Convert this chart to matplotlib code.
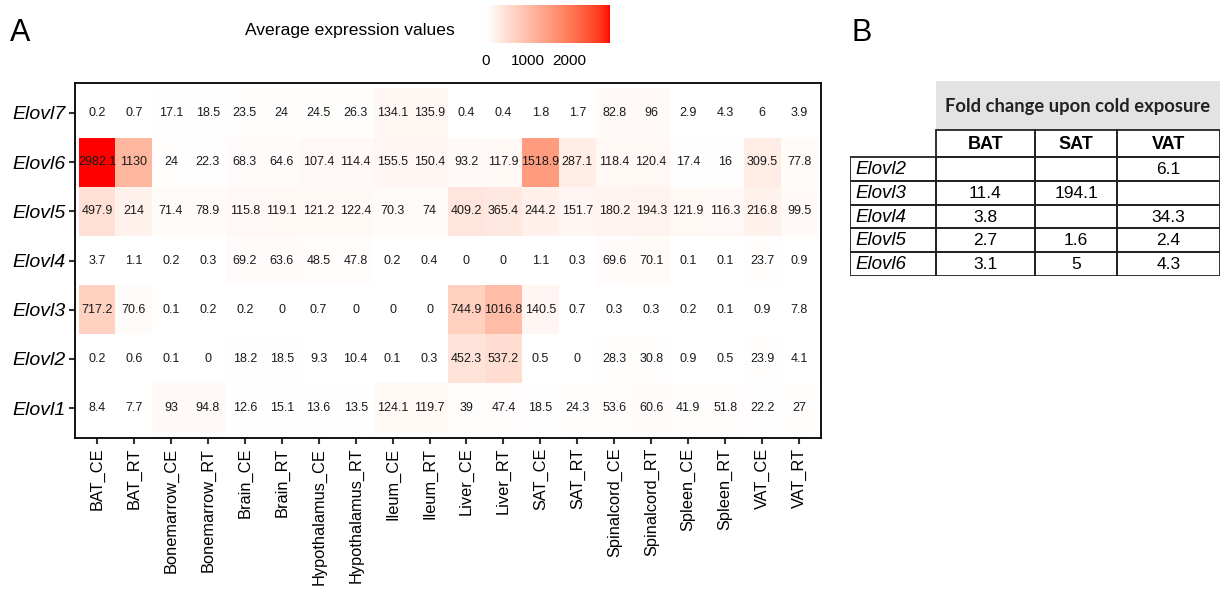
import numpy as np
import matplotlib
matplotlib.use("Agg")
import matplotlib.pyplot as plt
from matplotlib.colors import ListedColormap, Normalize
from matplotlib.cm import ScalarMappable
from matplotlib.patches import Rectangle

plt.rcParams['font.family'] = ['Liberation Sans', 'DejaVu Sans']

# ---- data (panel A) ----
genes = ['Elovl7', 'Elovl6', 'Elovl5', 'Elovl4', 'Elovl3', 'Elovl2', 'Elovl1']  # top to bottom
samples = ['BAT_CE', 'BAT_RT', 'Bonemarrow_CE', 'Bonemarrow_RT', 'Brain_CE', 'Brain_RT',
           'Hypothalamus_CE', 'Hypothalamus_RT', 'Ileum_CE', 'Ileum_RT', 'Liver_CE', 'Liver_RT',
           'SAT_CE', 'SAT_RT', 'Spinalcord_CE', 'Spinalcord_RT', 'Spleen_CE', 'Spleen_RT',
           'VAT_CE', 'VAT_RT']
elovl7 = [0.2, 0.7, 17.1, 18.5, 23.5, 24, 24.5, 26.3, 134.1, 135.9, 0.4, 0.4, 1.8, 1.7, 82.8, 96, 2.9, 4.3, 6, 3.9]
elovl6 = [2982.1, 1130, 24, 22.3, 68.3, 64.6, 107.4, 114.4, 155.5, 150.4, 93.2, 117.9, 1518.9, 287.1, 118.4, 120.4, 17.4, 16, 309.5, 77.8]
elovl5 = [497.9, 214, 71.4, 78.9, 115.8, 119.1, 121.2, 122.4, 70.3, 74, 409.2, 365.4, 244.2, 151.7, 180.2, 194.3, 121.9, 116.3, 216.8, 99.5]
elovl4 = [3.7, 1.1, 0.2, 0.3, 69.2, 63.6, 48.5, 47.8, 0.2, 0.4, 0, 0, 1.1, 0.3, 69.6, 70.1, 0.1, 0.1, 23.7, 0.9]
elovl3 = [717.2, 70.6, 0.1, 0.2, 0.2, 0, 0.7, 0, 0, 0, 744.9, 1016.8, 140.5, 0.7, 0.3, 0.3, 0.2, 0.1, 0.9, 7.8]
elovl2 = [0.2, 0.6, 0.1, 0, 18.2, 18.5, 9.3, 10.4, 0.1, 0.3, 452.3, 537.2, 0.5, 0, 28.3, 30.8, 0.9, 0.5, 23.9, 4.1]
elovl1 = [8.4, 7.7, 93, 94.8, 12.6, 15.1, 13.6, 13.5, 124.1, 119.7, 39, 47.4, 18.5, 24.3, 53.6, 60.6, 41.9, 51.8, 22.2, 27]
cbar_ticks = [0, 1000, 2000]

# ---- data (panel B) ----
fc_genes = ['Elovl2', 'Elovl3', 'Elovl4', 'Elovl5', 'Elovl6']
fc_cols = ['BAT', 'SAT', 'VAT']
fc_bat = ['', '11.4', '3.8', '2.7', '3.1']
fc_sat = ['', '194.1', '', '1.6', '5']
fc_vat = ['6.1', '', '34.3', '2.4', '4.3']


# white -> red gradient interpolated in Lab space (like ggplot)
def lab_gradient(n=256):
    def to_lin(c):
        c = np.asarray(c, float)
        return np.where(c <= 0.04045, c / 12.92, ((c + 0.055) / 1.055) ** 2.4)
    M = np.array([[0.4124, 0.3576, 0.1805], [0.2126, 0.7152, 0.0722], [0.0193, 0.1192, 0.9505]])
    wp = np.array([0.95047, 1.0, 1.08883])
    def lab(rgb):
        xyz = M @ to_lin(rgb) / wp
        f = np.where(xyz > 0.008856, np.cbrt(xyz), 7.787 * xyz + 16 / 116)
        return np.array([116 * f[1] - 16, 500 * (f[0] - f[1]), 200 * (f[1] - f[2])])
    l0, l1 = lab([1, 1, 1]), lab([1, 0, 0])
    out = []
    for t in np.linspace(0, 1, n):
        L, a, b = l0 + t * (l1 - l0)
        fy = (L + 16) / 116
        f = np.array([fy + a / 500, fy, fy - b / 200])
        xyz = np.where(f ** 3 > 0.008856, f ** 3, (f - 16 / 116) / 7.787) * wp
        lin = np.clip(np.linalg.inv(M) @ xyz, 0, 1)
        srgb = np.where(lin <= 0.0031308, 12.92 * lin, 1.055 * lin ** (1 / 2.4) - 0.055)
        out.append(np.clip(srgb, 0, 1))
    return ListedColormap(out)


cmap = lab_gradient()
Z = np.array([elovl7, elovl6, elovl5, elovl4, elovl3, elovl2, elovl1])[::-1]
norm = Normalize(0, Z.max())

W, H = 1222, 590
fig = plt.figure(figsize=(W / 100, H / 100), dpi=100)

# panel A heatmap
ax = fig.add_axes([75 / W, 1 - 438 / H, (821 - 75) / W, (438 - 83) / H])
ax.pcolormesh(np.arange(len(samples) + 1) - 0.5, np.arange(len(genes) + 1) - 0.5, Z,
              cmap=cmap, norm=norm)
for i in range(Z.shape[0]):
    for j in range(Z.shape[1]):
        ax.text(j, i, '%g' % Z[i, j], ha='center', va='center', fontsize=9, color='#1a1a1a')
ax.set_xlim(-0.595, len(samples) - 0.405)
ax.set_ylim(-0.61, len(genes) - 0.39)
ax.set_xticks(range(len(samples)))
ax.set_xticklabels(samples, rotation=90, fontsize=11.8)
ax.set_yticks(range(len(genes)))
ax.set_yticklabels(genes[::-1], fontsize=14, style='italic')
ax.tick_params(length=4, width=1.5, color='#333333', pad=3)
for s in ax.spines.values():
    s.set_linewidth(1.3)

# colour bar
cax = fig.add_axes([486 / W, 1 - 43 / H, 124 / W, 38 / H])
cb = fig.colorbar(ScalarMappable(norm=norm, cmap=cmap), cax=cax, orientation='horizontal',
                  ticks=cbar_ticks)
cb.outline.set_visible(False)
cax.tick_params(length=0, labelsize=11, pad=8)
fig.text(455 / W, 1 - 31 / H, 'Average expression values', ha='right', va='center', fontsize=12.6)

fig.text(10 / W, 1 - 33 / H, 'A', fontsize=22, va='center', ha='left')
fig.text(852 / W, 1 - 33 / H, 'B', fontsize=22, va='center', ha='left')

# panel B table
tx0, tx1, ty0, ty1 = 850, 1220, 81, 276
tax = fig.add_axes([tx0 / W, 1 - ty1 / H, (tx1 - tx0) / W, (ty1 - ty0) / H])
tax.set_xlim(tx0, tx1)
tax.set_ylim(ty1, ty0)
tax.axis('off')
col_edges = [850, 936, 1035, 1117, 1220]
row_edges = [81, 130, 157, 181, 205, 228, 252, 276]
lw = 1.3
tax.add_patch(Rectangle((col_edges[1], row_edges[0]), col_edges[-1] - col_edges[1],
                        row_edges[1] - row_edges[0], facecolor='#e3e3e3', edgecolor='none'))
tax.text((col_edges[1] + col_edges[-1]) / 2, (row_edges[0] + row_edges[1]) / 2 + 1,
         'Fold change upon cold exposure', ha='center', va='center', fontsize=13.2,
         fontweight='bold', family=['Lato', 'DejaVu Sans'], color='#222222')
for k, name in enumerate(fc_cols):
    x0, x1 = col_edges[k + 1], col_edges[k + 2]
    tax.add_patch(Rectangle((x0, row_edges[1]), x1 - x0, row_edges[2] - row_edges[1],
                            facecolor='none', edgecolor='#222222', lw=lw))
    tax.text((x0 + x1) / 2, (row_edges[1] + row_edges[2]) / 2 + 1, name, ha='center',
             va='center', fontsize=13, fontweight='bold')
fc_vals = [fc_bat, fc_sat, fc_vat]
for r, g in enumerate(fc_genes):
    y0, y1 = row_edges[r + 2], row_edges[r + 3]
    yc = (y0 + y1) / 2 + 1
    for k in range(4):
        x0, x1 = col_edges[k], col_edges[k + 1]
        tax.add_patch(Rectangle((x0, y0), x1 - x0, y1 - y0, facecolor='none',
                                edgecolor='#222222', lw=lw))
    tax.text(col_edges[0] + 5, yc, g, ha='left', va='center', fontsize=13.5, style='italic')
    for k, col in enumerate(fc_vals):
        tax.text((col_edges[k + 1] + col_edges[k + 2]) / 2, yc, col[r], ha='center',
                 va='center', fontsize=12.5)

fig.savefig('out.png', dpi=100)
